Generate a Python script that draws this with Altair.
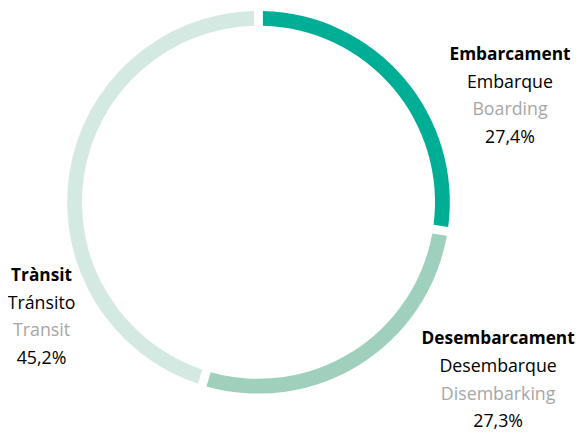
import altair as alt
import pandas as pd

categories = ["Embarcament", "Desembarcament", "Trànsit"]
spanish = ["Embarque", "Desembarque", "Tránsito"]
english = ["Boarding", "Disembarking", "Transit"]
values = [27.4, 27.3, 45.2]
pct_labels = ["27,4%", "27,3%", "45,2%"]
colors = ["#00AE96", "#9FD0BE", "#D5E9E3"]

df = pd.DataFrame({"cat": categories, "val": values, "ord": [0, 1, 2]})

W, H = 579, 428
CX, CY = 254, 194
R_OUT, R_IN = 194, 179
FONT = "Open Sans"
FS = 18

ring = alt.Chart(df).mark_arc(padAngle=0.034).encode(
    theta=alt.Theta("val:Q", stack=True),
    order=alt.Order("ord:Q"),
    color=alt.Color("cat:N", scale=alt.Scale(domain=categories, range=colors), legend=None),
    x=alt.value(CX), y=alt.value(CY),
    radius=alt.value(R_OUT), radius2=alt.value(R_IN),
)

# label anchor (center x, first baseline y) for each category
anchors = {"Embarcament": (509, 50), "Desembarcament": (497, 338), "Trànsit": (34, 274)}
LINE = 28

layers = [ring]
for i, c in enumerate(categories):
    ax, ay = anchors[c]
    lines = [
        (categories[i], "bold", "#000000"),
        (spanish[i], "normal", "#000000"),
        (english[i], "normal", "#A6A6A6"),
        (pct_labels[i], "normal", "#000000"),
    ]
    for j, (t, fw, col) in enumerate(lines):
        layers.append(
            alt.Chart(pd.DataFrame({"t": [t]})).mark_text(
                font=FONT, fontSize=FS if j else FS - 0.5, fontWeight=fw, color=col,
                align="center", baseline="alphabetic",
            ).encode(text="t:N", x=alt.value(ax), y=alt.value(ay + j * LINE))
        )

chart = alt.layer(*layers).properties(
    width=W, height=H, padding=0, autosize=alt.AutoSizeParams(type="none")
).configure_view(stroke=None)

chart.save("out.html", embed_options={"renderer": "svg", "actions": False})
